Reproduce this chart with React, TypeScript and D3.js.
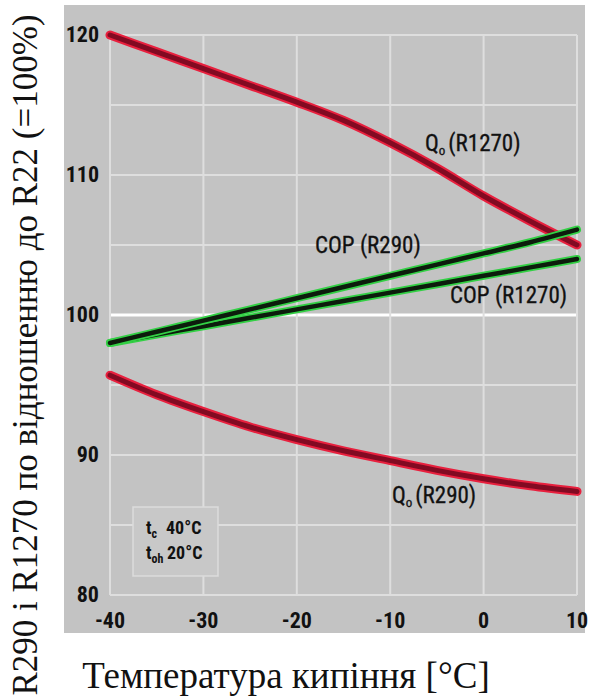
import React from "react";
import * as d3 from "d3";

const temps = [-40, -35, -30, -25, -20, -15, -10, -5, 0, 5, 10];
const qoR1270 = [120, 118.8, 117.6, 116.4, 115.2, 113.9, 112.3, 110.5, 108.5, 106.7, 105.0];
const qoR290 = [95.7, 94.3, 93.1, 92.0, 91.1, 90.3, 89.6, 88.9, 88.3, 87.8, 87.4];
const copR290 = [98.0, 98.8, 99.6, 100.4, 101.2, 102.0, 102.8, 103.6, 104.4, 105.2, 106.1];
const copR1270 = [98.0, 98.6, 99.2, 99.8, 100.4, 101.0, 101.6, 102.2, 102.8, 103.4, 104.0];

const xTicks = [-40, -30, -20, -10, 0, 10];
const yTicks = [80, 90, 100, 110, 120];
const yGrid = [80, 85, 90, 95, 100, 105, 110, 115, 120];

const W = 591;
const H = 697;

export default function App() {
  const x = d3.scaleLinear().domain([-40, 10]).range([110, 577]);
  const y = d3.scaleLinear().domain([80, 120]).range([595, 35]);
  const line = d3
    .line<number>()
    .x((_, i) => x(temps[i]))
    .y((d) => y(d))
    .curve(d3.curveMonotoneX);

  const condFont = "'Roboto Condensed', 'Liberation Sans', Arial, sans-serif";
  const serif = "'Liberation Serif', 'Times New Roman', serif";

  const redLine = (vals: number[], key: string) => (
    <g key={key}>
      <path d={line(vals) || ""} fill="none" stroke="#e8203e" strokeWidth={9} strokeLinecap="round" />
      <path d={line(vals) || ""} fill="none" stroke="#820a22" strokeWidth={5} strokeLinecap="round" />
    </g>
  );
  const greenLine = (vals: number[], key: string) => (
    <g key={key}>
      <path d={line(vals) || ""} fill="none" stroke="#33d045" strokeWidth={8} strokeLinecap="round" />
      <path d={line(vals) || ""} fill="none" stroke="#0c1c0c" strokeWidth={4.5} strokeLinecap="round" />
    </g>
  );

  const labelStyle = {
    fontFamily: condFont,
    fontSize: 23,
    fill: "#111",
    stroke: "#111",
    strokeWidth: 0.3,
  } as const;

  const legendStyle = {
    fontFamily: condFont,
    fontSize: 18,
    fontWeight: "bold",
    fill: "#111",
  } as const;

  const tickStyle = {
    fontFamily: condFont,
    fontSize: 22,
    fontWeight: "bold",
    fill: "#111",
  } as const;

  return (
    <svg width={W} height={H} style={{ position: "absolute", left: 0, top: 0, background: "#fff" }}>
      <rect x={64} y={5} width={521} height={628} fill="#c3c3c3" />
      {/* grid */}
      {yGrid.map((v) => (
        <line
          key={"gy" + v}
          x1={x(-40)}
          x2={x(10)}
          y1={y(v)}
          y2={y(v)}
          stroke={v === 100 ? "#ffffff" : "#dedede"}
          strokeWidth={v === 100 ? 3 : 2}
        />
      ))}
      {xTicks.map((v) => (
        <line key={"gx" + v} x1={x(v)} x2={x(v)} y1={y(120)} y2={y(80)} stroke="#dedede" strokeWidth={2} />
      ))}
      {/* legend box */}
      <rect x={133} y={507} width={85} height={69} fill="#c8c8c8" stroke="#dcdcdc" strokeWidth={1.5} />
      <text x={146} y={534} {...legendStyle}>
        t<tspan fontSize={12} dy={4}>c</tspan>
      </text>
      <text x={166} y={534} {...legendStyle}>40°C</text>
      <text x={146} y={559} {...legendStyle}>
        t<tspan fontSize={12} dy={4}>oh</tspan>
      </text>
      <text x={167} y={559} {...legendStyle}>20°C</text>
      {/* curves */}
      {redLine(qoR1270, "q1270")}
      {redLine(qoR290, "q290")}
      {greenLine(copR1270, "c1270")}
      {greenLine(copR290, "c290")}
      {/* labels */}
      <text x={425} y={151} {...labelStyle}>
        Q<tspan fontSize={13} dy={4}>o</tspan>
        <tspan dy={-4} dx={3}>(R1270)</tspan>
      </text>
      <text x={392} y={503} {...labelStyle}>
        Q<tspan fontSize={13} dy={4}>o</tspan>
        <tspan dy={-4} dx={3}>(R290)</tspan>
      </text>
      <text x={315} y={253} {...labelStyle}>COP (R290)</text>
      <text x={450} y={303} {...labelStyle}>COP (R1270)</text>
      {/* y ticks */}
      {yTicks.map((v) => (
        <text key={"yt" + v} x={99} y={y(v) + 7} textAnchor="end" {...tickStyle}>
          {v}
        </text>
      ))}
      {/* x ticks */}
      {xTicks.map((v) => (
        <text key={"xt" + v} x={x(v)} y={628} textAnchor="middle" {...tickStyle}>
          {v}
        </text>
      ))}
      {/* axis titles */}
      <text
        transform={`translate(37, 355) rotate(-90)`}
        textAnchor="middle"
        fontFamily={serif}
        fontSize={35}
        fill="#111"
      >
        R290 і R1270 по відношенню до R22 (=100%)
      </text>
      <text x={286} y={688} textAnchor="middle" fontFamily={serif} fontSize={37} fill="#111">
        Температура кипіння [°C]
      </text>
    </svg>
  );
}
